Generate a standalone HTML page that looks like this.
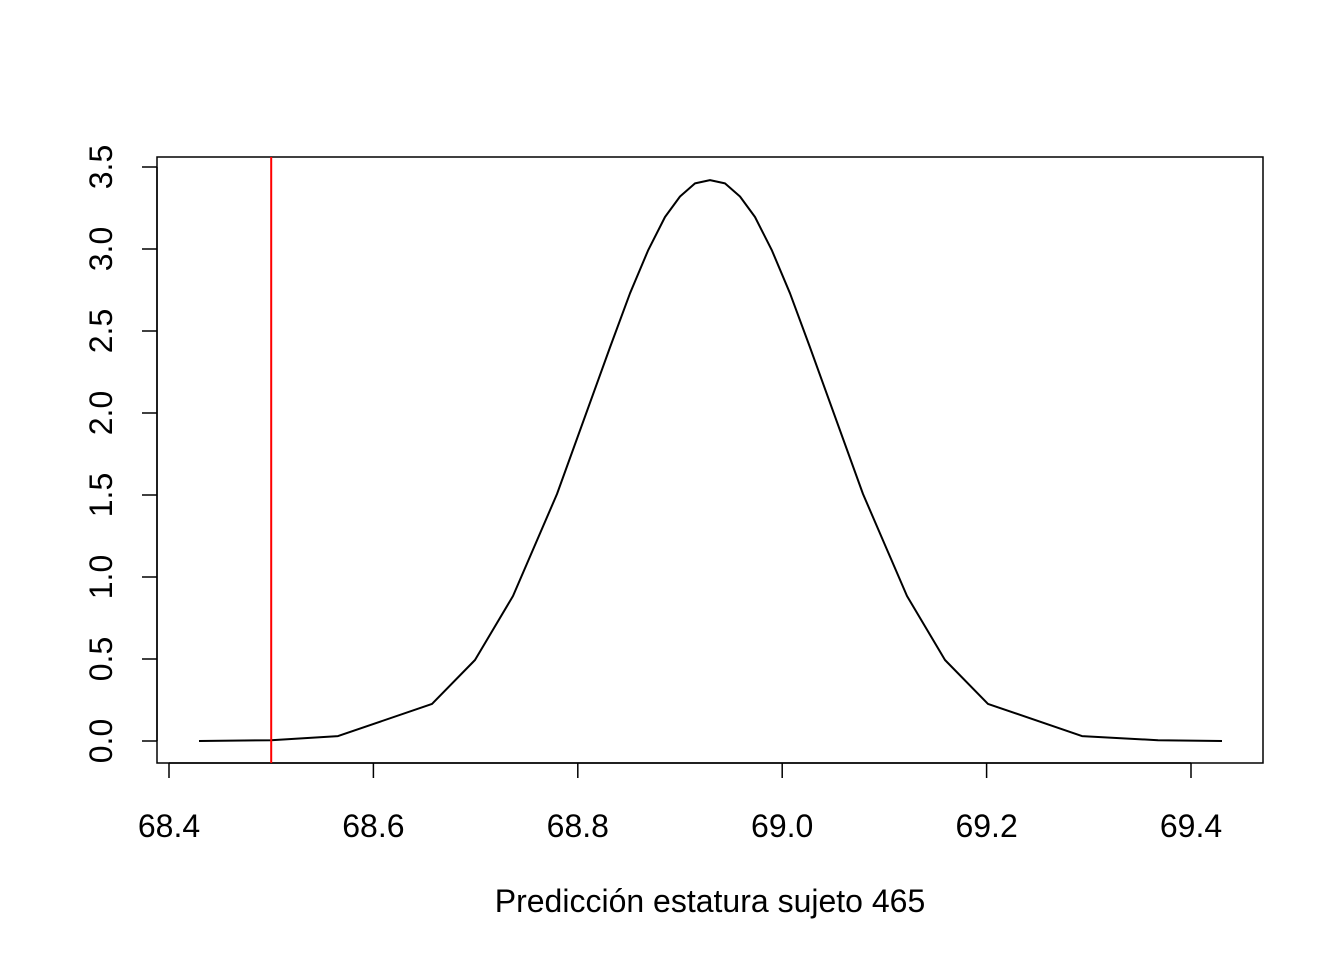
<!DOCTYPE html>
<html><head><meta charset="utf-8"><style>
body{margin:0;background:#fff;}
svg text{font-family:"Liberation Sans",Arial,sans-serif;font-size:32px;fill:#000;}
</style></head><body>
<svg id="chart" width="1344" height="960" xmlns="http://www.w3.org/2000/svg">
<rect x="157" y="157" width="1106" height="606" fill="none" stroke="#000" stroke-width="1.5"/>
<g id="xaxis"></g>
<g id="yaxis"></g>
<text x="710" y="912" text-anchor="middle">Predicción estatura sujeto 465</text>
<g id="marks"></g>
</svg>
<script>
const xTicks=[68.4,68.6,68.8,69.0,69.2,69.4];
const xTickLabels=["68.4","68.6","68.8","69.0","69.2","69.4"];
const yTicks=[0,0.5,1,1.5,2,2.5,3,3.5];
const yTickLabels=["0.0","0.5","1.0","1.5","2.0","2.5","3.0","3.5"];
const densX=[68.4294,68.4998,68.5654,68.6573,68.6994,68.7366,68.7796,68.8315,68.8511,68.8687,68.8853,68.9,68.9147,68.9294,68.944,68.9587,68.9734,68.99,69.0076,69.0272,69.0791,69.1221,69.1593,69.2014,69.2933,69.3677,69.4303];
const densY=[0.0,0.005,0.03,0.226,0.494,0.884,1.506,2.40,2.73,2.99,3.195,3.32,3.40,3.42,3.40,3.32,3.195,2.99,2.73,2.40,1.506,0.884,0.494,0.226,0.03,0.005,0.0];
const refLine=[68.5];
const NS="http://www.w3.org/2000/svg";
function sx(v){return 169+(v-68.4)*1022;}
function sy(v){return 741-v*164;}
function mk(t,a,p){const e=document.createElementNS(NS,t);for(const k in a)e.setAttribute(k,a[k]);p.appendChild(e);return e;}
const xa=document.getElementById('xaxis'),ya=document.getElementById('yaxis'),mg=document.getElementById('marks');
mk('line',{x1:sx(xTicks[0]),x2:sx(xTicks[xTicks.length-1]),y1:763,y2:763,stroke:'#000','stroke-width':1.5},xa);
xTicks.forEach((v,i)=>{
 const l=mk('line',{x1:sx(v),x2:sx(v),y1:763,y2:778,stroke:'#000','stroke-width':1.5},xa);
 
 
 const t=mk('text',{x:sx(v),y:837,'text-anchor':'middle'},xa);t.textContent=xTickLabels[i];
 
 
});
mk('line',{x1:157,x2:157,y1:sy(yTicks[0]),y2:sy(yTicks[yTicks.length-1]),stroke:'#000','stroke-width':1.5},ya);
yTicks.forEach((v,i)=>{
 const l=mk('line',{x1:142,x2:157,y1:sy(v),y2:sy(v),stroke:'#000','stroke-width':1.5},ya);
 
 
 const t=mk('text',{x:0,y:0,'text-anchor':'middle',transform:`translate(112,${sy(v)}) rotate(-90)`},ya);t.textContent=yTickLabels[i];
 
 
});
const pts=densX.map((x,i)=>sx(x).toFixed(1)+','+sy(densY[i]).toFixed(1)).join(' ');
const pl=mk('polyline',{points:pts,fill:'none',stroke:'#000','stroke-width':2,'stroke-linejoin':'round'},mg);


refLine.forEach(v=>{
 const r=mk('line',{x1:sx(v),x2:sx(v),y1:157,y2:763,stroke:'#ff0000','stroke-width':2},mg);
 
 
});
</script>
</body></html>
